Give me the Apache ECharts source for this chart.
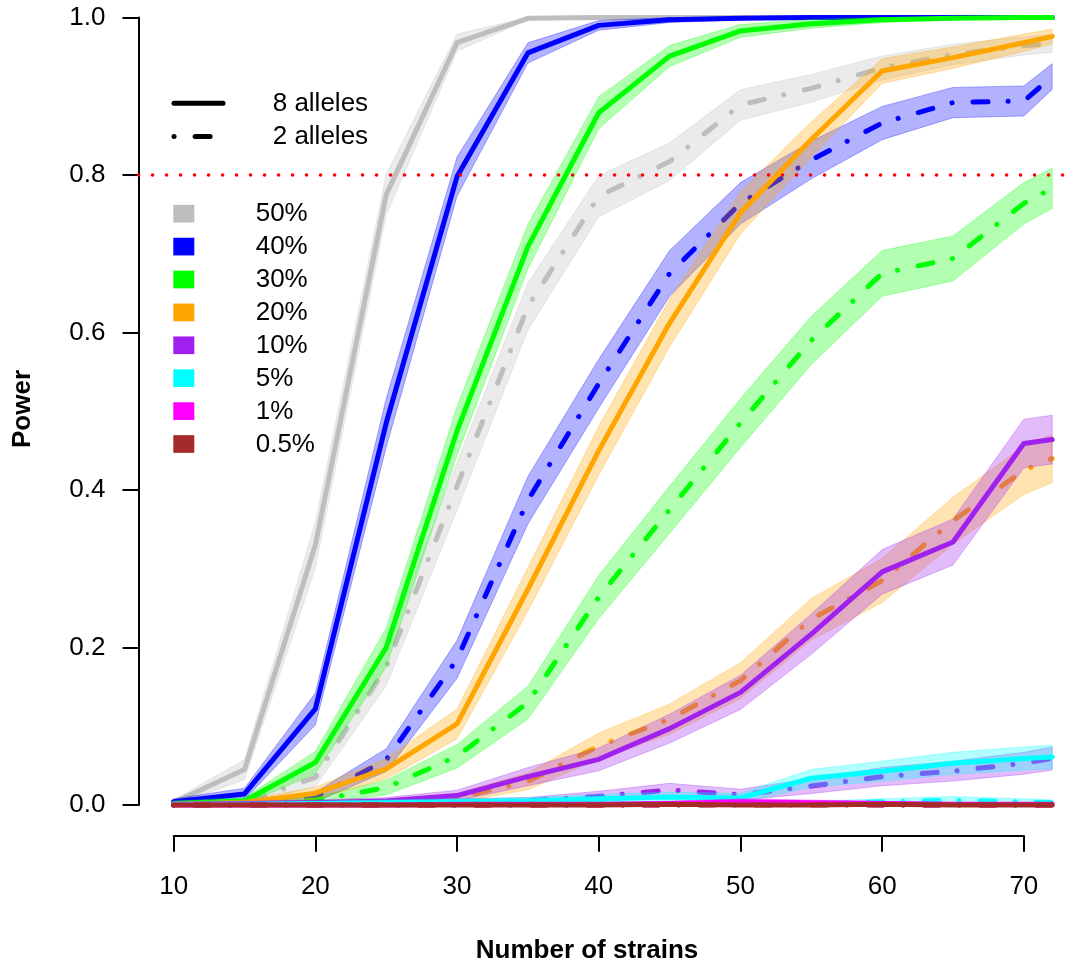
<!DOCTYPE html>
<html>
<head>
<meta charset="utf-8">
<title>Power vs number of strains</title>
<script src="https://cdn.jsdelivr.net/npm/echarts@6/dist/echarts.min.js"></script>
<style>
  html, body { margin: 0; padding: 0; background: #ffffff; }
  #chart { width: 1070px; height: 967px; }
</style>
</head>
<body>
<div id="chart"></div>
<script>
// Number of strains at which power was estimated
const strains = [10, 15, 20, 25, 30, 35, 40, 45, 50, 55, 60, 65, 70, 72];

// Effect sizes (legend labels) and their colours
const effectLabels = ['50%', '40%', '30%', '20%', '10%', '5%', '1%', '0.5%'];
const effectColors = ['#BEBEBE', '#0000FF', '#00FF00', '#FFA500', '#A020F0', '#00FFFF', '#FF00FF', '#A52A2A'];

// Estimated power, 8 alleles
const power8_50  = [0.003, 0.045, 0.330, 0.775, 0.968, 0.999, 1.000, 1.000, 1.000, 1.000, 1.000, 1.000, 1.000, 1.000];
const power8_40  = [0.004, 0.014, 0.122, 0.485, 0.798, 0.955, 0.990, 0.997, 0.999, 1.000, 1.000, 1.000, 1.000, 1.000];
const power8_30  = [0.002, 0.005, 0.054, 0.200, 0.475, 0.709, 0.879, 0.951, 0.983, 0.992, 0.997, 0.999, 1.000, 1.000];
const power8_20  = [0.001, 0.003, 0.015, 0.046, 0.103, 0.274, 0.450, 0.612, 0.752, 0.845, 0.932, 0.949, 0.968, 0.976];
const power8_10  = [0.001, 0.002, 0.003, 0.005, 0.012, 0.036, 0.058, 0.097, 0.143, 0.217, 0.296, 0.334, 0.459, 0.464];
const power8_5   = [0.001, 0.001, 0.002, 0.003, 0.004, 0.005, 0.008, 0.010, 0.009, 0.034, 0.043, 0.053, 0.059, 0.061];
const power8_1   = [0.000, 0.000, 0.000, 0.000, 0.001, 0.001, 0.001, 0.002, 0.004, 0.003, 0.002, 0.001, 0.001, 0.001];
const power8_05  = [0.000, 0.000, 0.000, 0.000, 0.000, 0.000, 0.000, 0.001, 0.000, 0.000, 0.001, 0.000, 0.000, 0.000];

// Estimated power, 2 alleles
const power2_50  = [0.001, 0.003, 0.035, 0.175, 0.405, 0.633, 0.773, 0.817, 0.889, 0.910, 0.936, 0.953, 0.964, 0.967];
const power2_40  = [0.001, 0.003, 0.010, 0.057, 0.185, 0.387, 0.535, 0.675, 0.764, 0.819, 0.866, 0.892, 0.894, 0.925];
const power2_30  = [0.000, 0.002, 0.006, 0.022, 0.062, 0.130, 0.264, 0.375, 0.485, 0.590, 0.675, 0.694, 0.764, 0.783];
const power2_20  = [0.000, 0.001, 0.002, 0.004, 0.009, 0.030, 0.075, 0.109, 0.158, 0.236, 0.285, 0.361, 0.425, 0.440];
const power2_10  = [0.000, 0.001, 0.002, 0.003, 0.004, 0.005, 0.011, 0.019, 0.013, 0.024, 0.036, 0.043, 0.053, 0.059];
const power2_5   = [0.000, 0.000, 0.001, 0.001, 0.001, 0.001, 0.002, 0.002, 0.002, 0.002, 0.004, 0.006, 0.004, 0.003];
const power2_1   = [0.000, 0.000, 0.000, 0.000, 0.000, 0.000, 0.000, 0.000, 0.001, 0.001, 0.000, 0.000, 0.000, 0.000];
const power2_05  = [0.000, 0.000, 0.000, 0.000, 0.000, 0.000, 0.000, 0.000, 0.000, 0.000, 0.000, 0.000, 0.000, 0.000];

const power8 = [power8_50, power8_40, power8_30, power8_20, power8_10, power8_5, power8_1, power8_05];
const power2 = [power2_50, power2_40, power2_30, power2_20, power2_10, power2_5, power2_1, power2_05];

// Simulations per point, used for the 95% binomial confidence band
const nSims = 1000;
const zCrit = 1.96;
const targetPower = 0.8;

const alleleLabels = ['8 alleles', '2 alleles'];

// ---- layout ----
const FONT = '"Liberation Sans", Arial, Helvetica, sans-serif';
const PX_PER_STRAIN = 14.17;
const PLOT_LEFT = 138.5;
const PLOT_TOP = 17.5;
const PLOT_HEIGHT = 787.5;
const xSpan = strains[strains.length - 1] - strains[0];
const xLo = strains[0] - 0.04 * xSpan;
const xHi = strains[strains.length - 1] + 0.04 * xSpan;
const tickFirst = 10, tickLast = 70;

const DOT_DASH = [0.1, 21, 15, 20];
const LINE_W = 5;

function rgba(hex, a) {
  const n = parseInt(hex.slice(1), 16);
  return 'rgba(' + ((n >> 16) & 255) + ',' + ((n >> 8) & 255) + ',' + (n & 255) + ',' + a + ')';
}

let layer = 0;
function nextZ() { layer += 1; return 2 + layer * 0.01; }

function bandSeries(vals, color) {
  return {
    type: 'custom',
    xAxisIndex: 0, yAxisIndex: 0,
    silent: true,
    z: nextZ(),
    data: strains.map((x, i) => [x, vals[i]]),
    encode: { x: 0, y: 1 },
    renderItem: function (params, api) {
      if (params.dataIndex !== 0) return null;
      const upper = [], lower = [];
      strains.forEach((x, i) => {
        const p = vals[i];
        const h = zCrit * Math.sqrt(p * (1 - p) / nSims);
        upper.push(api.coord([x, Math.min(1, p + h)]));
        lower.push(api.coord([x, Math.max(0, p - h)]));
      });
      return {
        type: 'polygon',
        shape: { points: upper.concat(lower.reverse()) },
        style: { fill: rgba(color, 0.3), stroke: rgba(color, 0.3), lineWidth: 1 }
      };
    }
  };
}

function lineSeries(vals, color, dashed) {
  return {
    type: 'line',
    xAxisIndex: 0, yAxisIndex: 0,
    silent: true,
    clip: false,
    z: nextZ(),
    showSymbol: false,
    symbol: 'none',
    data: strains.map((x, i) => [x, vals[i]]),
    lineStyle: { color: color, width: LINE_W, type: dashed ? DOT_DASH : 'solid', cap: 'round', join: 'round' },
    emphasis: { disabled: true }
  };
}

const series = [];
effectColors.forEach((c, k) => {
  series.push(bandSeries(power8[k], c));
  series.push(bandSeries(power2[k], c));
  series.push(lineSeries(power8[k], c, false));
  series.push(lineSeries(power2[k], c, true));
});

// target power reference line
series.push({
  type: 'line',
  xAxisIndex: 0, yAxisIndex: 0,
  silent: true,
  data: [],
  z: 10,
  markLine: {
    silent: true,
    symbol: 'none',
    animation: false,
    label: { show: false },
    lineStyle: { color: '#FF0000', width: 3.5, type: [0.1, 13.9], cap: 'round', opacity: 1 },
    data: [{ yAxis: targetPower }]
  }
});

// ---- legends ----
const graphics = [];
const legendLineX0 = 174, legendLineX1 = 223, legendTextX = 272.7;
const alleleRowY = [103.3, 136.5];
alleleLabels.forEach((lab, i) => {
  graphics.push({
    type: 'line', z: 20,
    shape: { x1: legendLineX0, y1: alleleRowY[i], x2: legendLineX1, y2: alleleRowY[i] },
    style: { stroke: '#000', lineWidth: LINE_W, lineCap: 'round', lineDash: i === 0 ? null : DOT_DASH }
  });
  graphics.push({
    type: 'text', x: legendTextX, y: alleleRowY[i] + 0.5, z: 20,
    style: { text: lab, font: '26px ' + FONT, fill: '#000', textVerticalAlign: 'middle', textAlign: 'left' }
  });
});

const boxX = 173.3, boxW = 21, boxH = 17.7, boxY0 = 213.7, boxStep = 32.9, pctTextX = 255.7;
effectLabels.forEach((lab, i) => {
  const cy = boxY0 + i * boxStep;
  graphics.push({
    type: 'rect', z: 20,
    shape: { x: boxX, y: cy - boxH / 2, width: boxW, height: boxH },
    style: { fill: effectColors[i] }
  });
  graphics.push({
    type: 'text', x: pctTextX, y: cy + 0.5, z: 20,
    style: { text: lab, font: '26px ' + FONT, fill: '#000', textVerticalAlign: 'middle', textAlign: 'left' }
  });
});

// axis titles
graphics.push({
  type: 'text', x: 23, y: 409, rotation: Math.PI / 2, z: 20,
  style: { text: 'Power', font: 'bold 26px ' + FONT, fill: '#000', textAlign: 'center', textVerticalAlign: 'middle' }
});
graphics.push({
  type: 'text', x: 587, y: 951, z: 20,
  style: { text: 'Number of strains', font: 'bold 26px ' + FONT, fill: '#000', textAlign: 'center', textVerticalAlign: 'middle' }
});

const chart = echarts.init(document.getElementById('chart'), null, { renderer: 'canvas', width: 1070, height: 967 });

chart.setOption({
  animation: false,
  backgroundColor: '#ffffff',
  grid: [
    { left: PLOT_LEFT, top: PLOT_TOP, height: PLOT_HEIGHT, width: (xHi - xLo) * PX_PER_STRAIN,
      containLabel: false, outerBoundsMode: 'none' },
    { left: PLOT_LEFT + (tickFirst - xLo) * PX_PER_STRAIN, top: 834.7, height: 1,
      width: (tickLast - tickFirst) * PX_PER_STRAIN, containLabel: false, outerBoundsMode: 'none' }
  ],
  xAxis: [
    { gridIndex: 0, type: 'value', min: xLo, max: xHi, show: false },
    {
      gridIndex: 1, type: 'value', min: tickFirst, max: tickLast, interval: 10,
      position: 'bottom',
      axisLine: { show: true, onZero: false, lineStyle: { color: '#000', width: 2 } },
      axisTick: { show: true, inside: false, length: 16, lineStyle: { color: '#000', width: 2 } },
      axisLabel: { show: true, margin: 38, color: '#000', fontSize: 26, fontFamily: FONT },
      splitLine: { show: false }
    }
  ],
  yAxis: [
    {
      gridIndex: 0, type: 'value', min: 0, max: 1, interval: 0.2,
      position: 'left',
      axisLine: { show: true, lineStyle: { color: '#000', width: 2 } },
      axisTick: { show: true, inside: false, length: 16, lineStyle: { color: '#000', width: 2 } },
      axisLabel: { show: true, margin: 33, color: '#000', fontSize: 26, fontFamily: FONT,
        formatter: v => v.toFixed(1) },
      splitLine: { show: false }
    },
    { gridIndex: 1, type: 'value', min: 0, max: 1, show: false }
  ],
  series: series,
  graphic: graphics
});
</script>
</body>
</html>
